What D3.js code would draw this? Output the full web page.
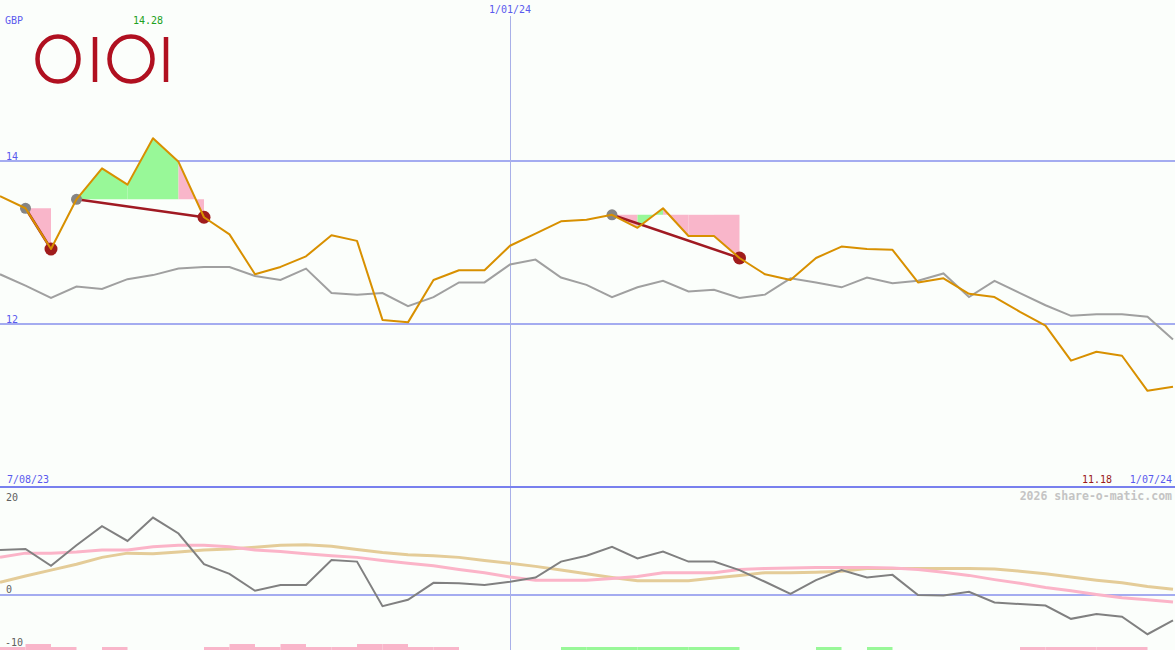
<!DOCTYPE html>
<html><head><meta charset="utf-8">
<script src="https://cdn.jsdelivr.net/npm/d3@7"></script>
<style>html,body{margin:0;padding:0;background:#fbfefb;overflow:hidden}</style>
</head><body>
<svg id="chart" width="1175" height="650"></svg>
<script>
// ---- data ----
const startDate = new Date(2023, 7, 14);
const endDate = new Date(2024, 6, 1);
const price = [13.57,13.42,12.92,13.53,13.91,13.71,14.28,13.99,13.31,13.10,
  12.61,12.70,12.83,13.09,13.02,12.05,12.02,12.54,12.66,12.66,
  12.96,13.11,13.26,13.28,13.34,13.18,13.42,13.08,13.08,12.81,
  12.61,12.54,12.81,12.95,12.92,12.91,12.51,12.56,12.37,12.33,
  12.15,11.98,11.55,11.66,11.61,11.18,11.23];
const index = [12.61,12.47,12.32,12.46,12.43,12.55,12.60,12.68,12.70,12.70,
  12.59,12.54,12.68,12.38,12.36,12.38,12.22,12.33,12.51,12.51,
  12.73,12.79,12.57,12.48,12.33,12.45,12.53,12.40,12.42,12.32,
  12.36,12.56,12.51,12.45,12.57,12.50,12.53,12.62,12.33,12.53,
  12.38,12.23,12.10,12.12,12.12,12.09,11.81];
const momentum = [8.5,8.7,5.5,9.4,13.0,10.2,14.6,11.6,5.8,4.0,
  0.8,1.9,1.9,6.6,6.3,-2.1,-0.9,2.3,2.2,1.9,
  2.5,3.3,6.3,7.4,9.1,6.9,8.2,6.3,6.3,4.7,
  2.5,0.2,2.8,4.7,3.3,3.8,0.0,-0.1,0.6,-1.4,
  -1.7,-2.0,-4.5,-3.6,-4.1,-7.4,-4.8];
const avgFast = [7.1,7.9,7.9,8.1,8.5,8.5,9.1,9.4,9.4,9.1,
  8.5,8.2,7.8,7.4,7.1,6.5,6.0,5.5,4.8,4.2,
  3.4,2.8,2.8,2.8,3.1,3.5,4.2,4.2,4.2,4.8,
  5.0,5.1,5.2,5.2,5.2,5.1,4.8,4.3,3.7,2.9,
  2.2,1.4,0.8,0.1,-0.5,-0.9,-1.3];
const avgSlow = [2.4,3.6,4.7,5.8,7.1,7.9,7.8,8.1,8.5,8.7,
  9.0,9.4,9.5,9.2,8.6,8.0,7.6,7.4,7.1,6.5,
  6.0,5.4,4.7,4.0,3.3,2.7,2.7,2.7,3.2,3.7,
  4.2,4.2,4.3,4.5,5.0,5.0,5.0,5.0,5.0,4.9,
  4.5,4.0,3.4,2.8,2.3,1.6,1.1];
const signals = [-1,-2,-1,0,-1,0,0,0,-1,-2,
  -1,-2,-1,-1,-2,-2,-1,-1,0,0,
  0,0,1,1,1,1,1,1,1,0,
  0,0,1,0,1,0,0,0,0,0,
  -1,-1,-1,-1,-1,0];
const trades = [{start:1,end:2},{start:3,end:8},{start:24,end:29}];
const priceTicks = [14, 12];
const momTicks = [20, 0, -10];
const dateLabels = ["7/08/23", "1/01/24", "1/07/24"];
const midDate = new Date(2024, 0, 1);
const currency = "GBP";
const maxLabel = "14.28", minLabel = "11.18";
const credit = "2026 share-o-matic.com";

// ---- setup ----
const dates = price.map((_, i) => d3.timeDay.offset(startDate, i * 7));
const W = 1175, H = 650;
const svg = d3.select("#chart");
const x = d3.scaleTime().domain([startDate, endDate]).range([0, 1173]);
const y = d3.scaleLinear().domain([10, 16]).range([487, -2]);
const y2 = d3.scaleLinear().domain([-10, 20]).range([648, 489]);
const hScale = d3.scaleLinear().domain([0, 2]).range([0, 6]);
const mono = "'DejaVu Sans Mono', 'Liberation Mono', monospace";

svg.append("rect").attr("width", W).attr("height", H).attr("fill", "#fbfefb");

// gridlines
svg.selectAll(".pg").data(priceTicks).join("line")
  .attr("x1", 0).attr("x2", W).attr("y1", d => y(d)).attr("y2", d => y(d))
  .attr("stroke", "#a4acf0").attr("stroke-width", 2);
svg.append("line").attr("x1", 0).attr("x2", W).attr("y1", y2(0)).attr("y2", y2(0))
  .attr("stroke", "#a4acf0").attr("stroke-width", 2);
svg.append("line").attr("x1", Math.round(x(midDate)) + 0.5).attr("x2", Math.round(x(midDate)) + 0.5)
  .attr("y1", 16).attr("y2", H).attr("stroke", "#a8b0e8").attr("stroke-width", 1);
svg.append("line").attr("x1", 0).attr("x2", W).attr("y1", 487).attr("y2", 487)
  .attr("stroke", "#7880ee").attr("stroke-width", 2);

// trade fills
const segArea = d3.area().x(d => x(d.date)).y0(d => y(d.base)).y1(d => y(d.v));
trades.forEach(t => {
  const base = price[t.start];
  for (let i = t.start; i < t.end; i++) {
    const pts = [{date: dates[i], v: price[i], base}, {date: dates[i + 1], v: price[i + 1], base}];
    svg.append("path").attr("d", segArea(pts))
      .attr("fill", price[i + 1] > base ? "#98f898" : "#f9b6ca");
  }
});

// index line
const line = d3.line().x((d, i) => x(dates[i])).y(d => y(d));
svg.append("path").attr("d", line(index)).attr("fill", "none")
  .attr("stroke", "#a0a0a0").attr("stroke-width", 2);

// trade connectors and markers
trades.forEach(t => {
  svg.append("line").attr("x1", x(dates[t.start])).attr("y1", y(price[t.start]))
    .attr("x2", x(dates[t.end])).attr("y2", y(price[t.end]))
    .attr("stroke", "#a01a22").attr("stroke-width", 2.5);
  svg.append("circle").attr("cx", x(dates[t.start])).attr("cy", y(price[t.start])).attr("r", 5.5)
    .attr("fill", "#858585");
  svg.append("circle").attr("cx", x(dates[t.end])).attr("cy", y(price[t.end])).attr("r", 6.5)
    .attr("fill", "#a01c1c");
});

// price line
svg.append("path").attr("d", line(price)).attr("fill", "none")
  .attr("stroke", "#d89000").attr("stroke-width", 2).attr("stroke-linejoin", "round");

// lower panel
const line2 = d3.line().x((d, i) => x(dates[i])).y(d => y2(d));
svg.append("path").attr("d", line2(avgSlow)).attr("fill", "none")
  .attr("stroke", "#e4cc98").attr("stroke-width", 3);
svg.append("path").attr("d", line2(avgFast)).attr("fill", "none")
  .attr("stroke", "#fbb4c8").attr("stroke-width", 3);
svg.append("path").attr("d", line2(momentum)).attr("fill", "none")
  .attr("stroke", "#808080").attr("stroke-width", 2);

// signal bars
svg.selectAll(".sig").data(signals.map((s, i) => ({s, i})).filter(d => d.s !== 0)).join("rect")
  .attr("x", d => x(dates[d.i])).attr("width", d => x(dates[d.i + 1]) - x(dates[d.i]))
  .attr("y", d => H - hScale(Math.abs(d.s))).attr("height", d => hScale(Math.abs(d.s)))
  .attr("fill", d => d.s > 0 ? "#98f898" : "#f9b6ca");

// logo
const logo = svg.append("g").attr("fill", "none").attr("stroke", "#b01020").attr("stroke-width", 4.5);
logo.append("ellipse").attr("cx", 58).attr("cy", 59).attr("rx", 20.5).attr("ry", 22.5);
logo.append("line").attr("x1", 95).attr("x2", 95).attr("y1", 37).attr("y2", 82);
logo.append("ellipse").attr("cx", 131).attr("cy", 59).attr("rx", 21.5).attr("ry", 22.5);
logo.append("line").attr("x1", 166).attr("x2", 166).attr("y1", 37).attr("y2", 82);

// texts
const txt = (s, xx, yy, col, anchor, size, weight) => svg.append("text").text(s)
  .attr("x", xx).attr("y", yy).attr("fill", col).attr("text-anchor", anchor || "start")
  .attr("font-family", mono).attr("font-size", size || 10).attr("font-weight", weight || "normal");
txt(currency, 5, 24, "#5a5aee");
const maxI = price.indexOf(d3.max(price));
txt(maxLabel, x(dates[maxI]) - 5, 24, "#20a020", "middle");
txt(dateLabels[1], x(midDate), 13, "#5a5aee", "middle");
txt(dateLabels[0], 7, 483, "#5a5aee");
txt(dateLabels[2], 1172, 483, "#5a5aee", "end");
txt(minLabel, 1112, 483, "#9a1a1a", "end");
txt(credit, 1172, 500, "#c4c4c4", "end", 11.5, "bold");
priceTicks.forEach(t => txt(String(t), 6, y(t) - 1, "#5a5aee"));
txt(String(momTicks[0]), 6, 501, "#606060");
txt(String(momTicks[1]), 6, y2(0) - 2, "#606060");
txt(String(momTicks[2]), 5, 646, "#606060");
</script>
</body></html>
